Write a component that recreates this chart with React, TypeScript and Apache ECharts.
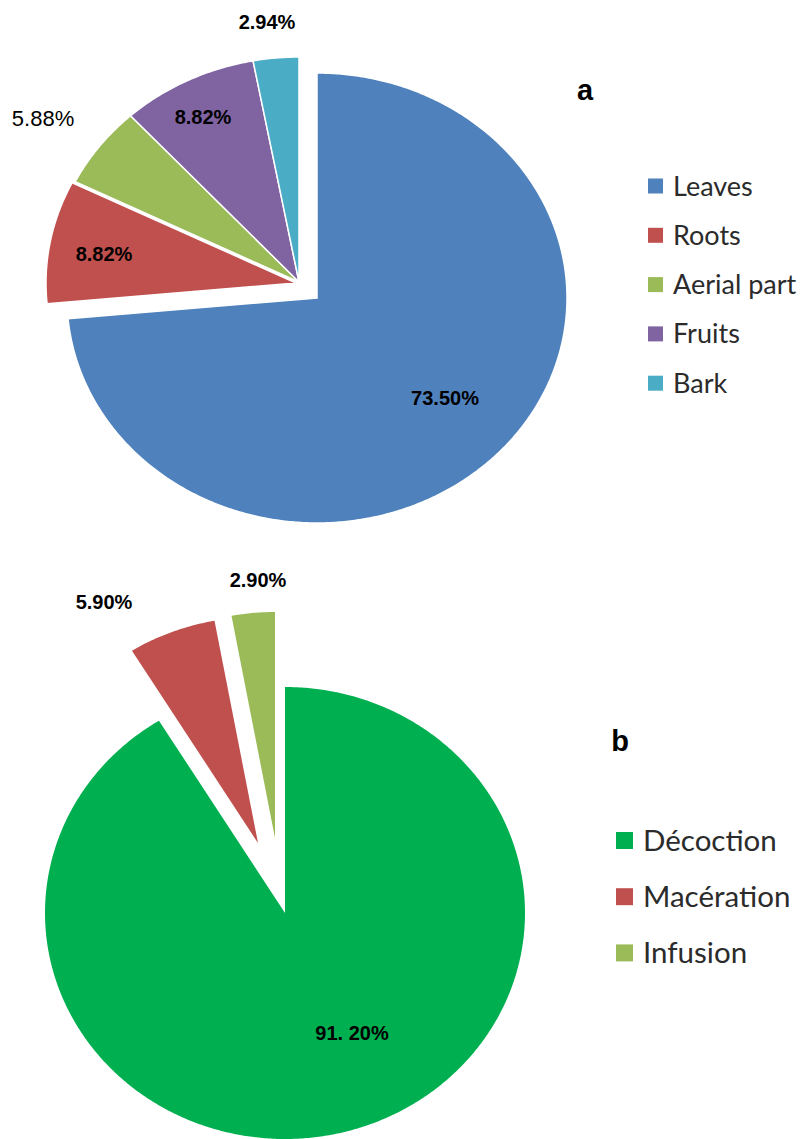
import React, { useEffect, useRef } from "react";
import * as echarts from "echarts";

// ---- data ----
const categoriesA = ["Leaves", "Roots", "Aerial part", "Fruits", "Bark"];
const valuesA = [73.5, 8.82, 5.88, 8.82, 2.94];
const labelsA = ["73.50%", "8.82%", "5.88%", "8.82%", "2.94%"];

const categoriesB = ["Décoction", "Macération", "Infusion"];
const valuesB = [91.2, 5.9, 2.9];
const labelsB = ["91. 20%", "5.90%", "2.90%"];

const panelTitles = ["a", "b"];

// ---- styles / layout ----
const colorsA = ["#4F81BD", "#C0504D", "#9BBB59", "#8064A2", "#4BACC6"];
const colorsB = ["#00B050", "#C0504D", "#9BBB59"];

const BOLD = "bold 20px 'Liberation Sans', Arial, sans-serif";
const NORMAL = "22px 'Liberation Sans', Arial, sans-serif";

const geoA = {
  cx: 299, cy: 282, rx: 250, ry: 225,
  offsets: [[18, 16], [-3, 1], [0, 0], [0, 0], [0, 0]],
  labelOffsets: [[128, 100], [-192, -29], [-256, -164], [-96, -165], [-32, -260]],
  labelFonts: [BOLD, BOLD, NORMAL, BOLD, BOLD],
  stroke: "#ffffff", lineWidth: 1.5,
};
const geoB = {
  cx: 285, cy: 913, rx: 240, ry: 226,
  offsets: [[0, 0], [-27, -70], [-10, -75]],
  labelOffsets: [[67, 120], [-154, -241], [-17, -258]],
  labelFonts: [BOLD, BOLD, BOLD],
  stroke: "#ffffff", lineWidth: 0,
};

function makeRender(values: number[], labels: string[], colors: string[], geo: any) {
  const total = values.reduce((a, b) => a + b, 0);
  return (params: any, api: any) => {
    const i = params.dataIndex;
    const v = api.value(0);
    let before = 0;
    for (let k = 0; k < i; k++) before += values[k];
    const a0 = (before / total) * Math.PI * 2;
    const a1 = ((before + v) / total) * Math.PI * 2;
    const cx = geo.cx + geo.offsets[i][0];
    const cy = geo.cy + geo.offsets[i][1];
    const pts: number[][] = [[cx, cy]];
    const n = Math.max(2, Math.ceil((a1 - a0) / (Math.PI / 360)));
    for (let s = 0; s <= n; s++) {
      const t = a0 + ((a1 - a0) * s) / n;
      pts.push([cx + geo.rx * Math.sin(t), cy - geo.ry * Math.cos(t)]);
    }
    return {
      type: "group",
      children: [
        {
          type: "polygon",
          shape: { points: pts },
          style: { fill: colors[i], stroke: geo.lineWidth ? geo.stroke : null, lineWidth: geo.lineWidth },
        },
        {
          type: "text",
          x: cx + geo.labelOffsets[i][0],
          y: cy + geo.labelOffsets[i][1],
          style: {
            text: labels[i],
            font: geo.labelFonts[i],
            fill: "#000000",
            textAlign: "center",
            textVerticalAlign: "middle",
          },
        },
      ],
    };
  };
}

function legend(cats: string[], colors: string[], x: number, y0: number, step: number, box: number, textX: number, font: string) {
  const out: any[] = [];
  cats.forEach((c, i) => {
    const yc = y0 + i * step;
    out.push({ type: "rect", shape: { x, y: yc - box / 2, width: box, height: box }, style: { fill: colors[i] } });
    out.push({
      type: "text", x: textX, y: yc - 1,
      style: { text: c, font, fill: "#2b2b2b", textAlign: "left", textVerticalAlign: "middle" },
    });
  });
  return out;
}

export default function App() {
  const ref = useRef<HTMLDivElement>(null);
  useEffect(() => {
    if (!ref.current) return;
    const chart = echarts.init(ref.current, null, { renderer: "svg" });
    chart.setOption({
      animation: false,
      backgroundColor: "#ffffff",
      series: [
        {
          type: "custom",
          name: "Plant parts",
          coordinateSystem: "none",
          data: valuesA.map((v, i) => ({ name: categoriesA[i], value: [v] })),
          renderItem: makeRender(valuesA, labelsA, colorsA, geoA),
        },
        {
          type: "custom",
          name: "Preparation",
          coordinateSystem: "none",
          data: valuesB.map((v, i) => ({ name: categoriesB[i], value: [v] })),
          renderItem: makeRender(valuesB, labelsB, colorsB, geoB),
        },
      ],
      graphic: [
        ...legend(categoriesA, colorsA, 648, 186, 49.3, 15, 673, "27px Lato, 'Open Sans', sans-serif"),
        ...legend(categoriesB, colorsB, 616, 840.5, 56.2, 17, 643, "29.5px Lato, 'Open Sans', sans-serif"),
        {
          type: "text", x: 585, y: 90,
          style: { text: panelTitles[0], font: "bold 29px 'Liberation Sans', Arial, sans-serif", fill: "#000", textAlign: "center", textVerticalAlign: "middle" },
        },
        {
          type: "text", x: 620, y: 741,
          style: { text: panelTitles[1], font: "bold 29px 'Liberation Sans', Arial, sans-serif", fill: "#000", textAlign: "center", textVerticalAlign: "middle" },
        },
      ],
    });
    return () => chart.dispose();
  }, []);
  return (
    <div
      ref={ref}
      style={{ position: "absolute", left: 0, top: 0, width: 801, height: 1139, background: "#fff" }}
    />
  );
}
